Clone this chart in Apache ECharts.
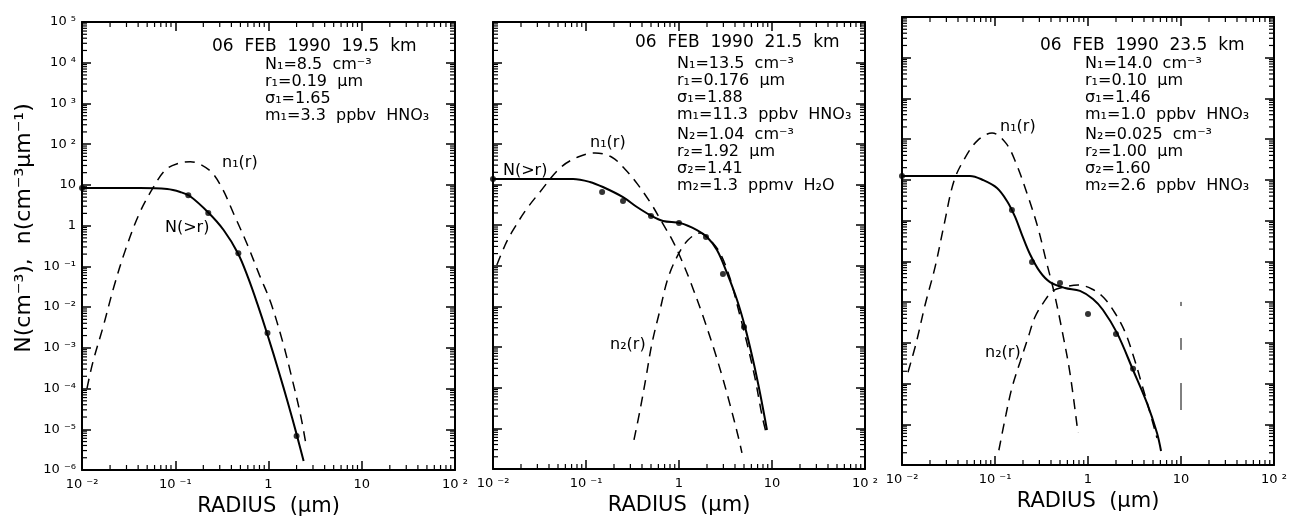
<!DOCTYPE html>
<html>
<head>
<meta charset="utf-8">
<script src="https://cdn.jsdelivr.net/npm/echarts@6/dist/echarts.min.js"></script>
<style>
  html, body { margin: 0; padding: 0; background: #fff; }
  #main { width: 1291px; height: 517px; }
</style>
</head>
<body>
<div id="main"></div>
<script>
// axis ranges (radius in um, concentration)
const radiusRange = [0.01, 100]
const concRange = [1e-6, 1e5]

// 06 FEB 1990, 19.5 km  -- [radius, value]
const p1Cum = [[0.01, 8.4], [0.042, 8.4], [0.082, 7.9], [0.113, 6.7], [0.142, 5.4], [0.226, 2.1], [0.33, 0.78],
  [0.47, 0.21], [0.6, 0.055], [0.76, 0.012], [0.975, 2.1e-3], [1.3, 2.45e-4], [1.6, 4.8e-5], [2.0, 7.6e-6], [2.38, 1.66e-6]]
const p1N1 = [[0.0113, 1.0e-4], [0.0131, 4.5e-4], [0.0168, 3.2e-3], [0.0221, 0.033], [0.029, 0.24], [0.04, 1.7],
  [0.055, 7.0], [0.078, 23], [0.105, 33], [0.145, 37], [0.232, 23], [0.313, 8.9], [0.43, 1.8], [0.594, 0.34],
  [0.8, 0.061], [1.05, 0.0135], [1.42, 1.4e-3], [1.73, 2.4e-4], [2.21, 2.2e-5], [2.56, 3.5e-6]]
const p1Dots = [[0.01, 8.4], [0.138, 5.6], [0.226, 2.05], [0.475, 0.21], [0.975, 2.3e-3], [2.0, 6.8e-6]]

// 06 FEB 1990, 21.5 km
const p2Cum = [[0.01, 13.7], [0.0725, 13.7], [0.11, 11.6], [0.152, 8.7], [0.25, 4.9], [0.353, 2.8], [0.488, 1.78],
  [0.673, 1.27], [1.03, 1.13], [1.56, 0.76], [2.0, 0.51], [2.56, 0.245], [3.28, 0.067], [4.21, 0.0144],
  [5.13, 3.1e-3], [6.25, 4.8e-4], [7.43, 7.4e-5], [8.83, 9.1e-6]]
const p2N1 = [[0.011, 0.105], [0.0135, 0.326], [0.016, 0.68], [0.0226, 2.37], [0.032, 6.56], [0.0525, 25.5],
  [0.082, 47.6], [0.125, 59.8], [0.19, 47], [0.263, 23.8], [0.353, 10.7], [0.5, 3.4], [0.64, 1.3], [0.861, 0.4],
  [1.077, 0.131], [1.313, 0.0432], [1.81, 5.8e-3], [2.38, 8.8e-4], [2.97, 1.64e-4], [3.53, 3.9e-5], [4.31, 6.6e-6], [4.75, 2.5e-6]]
const p2N2 = [[0.328, 5.2e-6], [0.381, 2.8e-5], [0.442, 1.8e-4], [0.513, 1.26e-3], [0.625, 8.2e-3], [0.762, 0.05],
  [0.975, 0.185], [1.25, 0.43], [1.68, 0.64], [2.15, 0.43], [2.76, 0.207], [3.53, 0.05], [4.42, 7.3e-3],
  [5.38, 1.26e-3], [6.56, 1.74e-4], [7.8, 2.1e-5], [8.61, 8.1e-6]]
const p2Dots = [[0.01, 13.7], [0.149, 6.56], [0.25, 3.94], [0.5, 1.68], [1.0, 1.13], [1.95, 0.51], [2.97, 0.063], [5.0, 3.1e-3]]

// 06 FEB 1990, 23.5 km
const p3Cum = [[0.01, 12.5], [0.0538, 12.5], [0.0743, 9.95], [0.105, 6.34], [0.135, 3.0], [0.164, 1.25],
  [0.195, 0.45], [0.238, 0.15], [0.305, 0.055], [0.39, 0.031], [0.566, 0.0222], [0.82, 0.0188], [1.13, 0.0119],
  [1.45, 6.4e-3], [2.05, 1.75e-3], [3.05, 2.15e-4], [4.31, 3.3e-5], [5.52, 6.1e-6], [6.1, 2.2e-6]]
const p3N1 = [[0.0116, 1.9e-4], [0.0142, 9.9e-4], [0.0177, 8.5e-3], [0.0227, 0.073], [0.0283, 0.78], [0.0362, 9.4],
  [0.0475, 34.5], [0.0656, 95], [0.093, 142], [0.131, 80], [0.168, 26], [0.226, 4.0], [0.29, 0.66], [0.353, 0.108],
  [0.431, 0.0177], [0.525, 2.07e-3], [0.64, 1.8e-4], [0.78, 6.1e-6]]
const p3N2 = [[0.11, 2.3e-6], [0.131, 1.7e-5], [0.152, 7.8e-5], [0.186, 3.4e-4], [0.226, 1.3e-3], [0.269, 4.3e-3],
  [0.336, 0.0101], [0.42, 0.0188], [0.566, 0.0235], [0.78, 0.0263], [1.1, 0.021], [1.49, 0.0126], [1.95, 5.4e-3],
  [2.5, 1.85e-3], [3.12, 4.3e-4], [3.81, 9.2e-5], [4.65, 1.9e-5], [5.52, 4.6e-6]]
const p3Dots = [[0.01, 12.5], [0.152, 1.82], [0.25, 0.097], [0.5, 0.0294], [1.0, 5.1e-3], [2.0, 1.65e-3], [3.05, 2.3e-4]]
// vertical mark at 10 um (dashes + solid piece)
const p3Mark = [[[10, 0.0101], [10, 8.0e-3]], [[10, 1.31e-3], [10, 6.7e-4]], [[10, 1.03e-4], [10, 2.24e-5]]]

// text blocks
const titles = ['06  FEB  1990  19.5  km', '06  FEB  1990  21.5  km', '06  FEB  1990  23.5  km']
const p1Info = ['N₁=8.5  cm⁻³', 'r₁=0.19  μm', 'σ₁=1.65', 'm₁=3.3  ppbv  HNO₃']
const p2Info = ['N₁=13.5  cm⁻³', 'r₁=0.176  μm', 'σ₁=1.88', 'm₁=11.3  ppbv  HNO₃',
  'N₂=1.04  cm⁻³', 'r₂=1.92  μm', 'σ₂=1.41', 'm₂=1.3  ppmv  H₂O']
const p3Info = ['N₁=14.0  cm⁻³', 'r₁=0.10  μm', 'σ₁=1.46', 'm₁=1.0  ppbv  HNO₃',
  'N₂=0.025  cm⁻³', 'r₂=1.00  μm', 'σ₂=1.60', 'm₂=2.6  ppbv  HNO₃']

const FONT = 'DejaVu Sans'
const SUP = { '-': '⁻', '0': '⁰', '1': '¹', '2': '²', '3': '³', '4': '⁴', '5': '⁵', '6': '⁶', '7': '⁷', '8': '⁸', '9': '⁹' }

function decadeLabel(v) {
  const e = Math.round(Math.log10(v))
  if (e === 0) return '1'
  if (e === 1) return '10'
  return '10 ' + String(e).split('').map(c => SUP[c]).join('')
}

// 2..9 x 10^k between the decades of a range (minor tick positions)
function minorValues(range) {
  const out = []
  const k0 = Math.round(Math.log10(range[0])), k1 = Math.round(Math.log10(range[1]))
  for (let k = k0; k < k1; k++) {
    for (let m = 2; m <= 9; m++) out.push(m * Math.pow(10, k))
  }
  return out
}

const grids = [
  { left: 82, top: 22, width: 373, height: 448 },
  { left: 493, top: 22, width: 372, height: 447 },
  { left: 902, top: 17, width: 372, height: 448 }
]

const tick = { inside: true, length: 9, lineStyle: { color: '#000', width: 1.5 } }
const line = { onZero: false, lineStyle: { color: '#000', width: 2 } }

function xAxisFor(g, top) {
  return {
    type: 'log', logBase: 10, gridIndex: g, position: top ? 'top' : 'bottom',
    min: radiusRange[0], max: radiusRange[1],
    name: top ? '' : 'RADIUS  (μm)', nameLocation: 'middle', nameGap: 22,
    nameTextStyle: { fontFamily: FONT, fontSize: 21, color: '#000' },
    axisLine: line, axisTick: tick, minorTick: { show: false }, splitLine: { show: false },
    axisLabel: {
      show: !top, formatter: decadeLabel, fontFamily: FONT, fontSize: 13, color: '#000', margin: 8,
      showMinLabel: true, showMaxLabel: true
    }
  }
}

function yAxisFor(g, right) {
  return {
    type: 'log', logBase: 10, gridIndex: g, position: right ? 'right' : 'left',
    min: concRange[0], max: concRange[1], interval: 1,
    axisLine: line, axisTick: tick, minorTick: { show: false }, splitLine: { show: false },
    axisLabel: {
      show: g === 0 && !right, formatter: decadeLabel, fontFamily: FONT, fontSize: 13, color: '#000', margin: 6,
      showMinLabel: true, showMaxLabel: true
    }
  }
}

function curve(g, data, dashed) {
  return {
    type: 'line', xAxisIndex: 2 * g, yAxisIndex: 2 * g, data: data, showSymbol: false, smooth: 0.35, silent: true,
    lineStyle: { color: '#000', width: dashed ? 1.5 : 2, type: dashed ? [10, 7] : 'solid' }
  }
}

function dots(g, data) {
  return { type: 'scatter', xAxisIndex: 2 * g, yAxisIndex: 2 * g, data: data, symbolSize: 6, itemStyle: { color: '#000' }, silent: true }
}

// minor ticks on all four sides, placed through the log axes
function minorTicks(g, horizontal) {
  const vals = minorValues(horizontal ? radiusRange : concRange)
  return {
    type: 'custom', xAxisIndex: 2 * g, yAxisIndex: 2 * g, silent: true, clip: false,
    data: vals.map(v => horizontal ? [v, 1] : [1, v]),
    renderItem: function (params, api) {
      const cs = params.coordSys
      const st = { stroke: '#000', lineWidth: 1.2 }
      const len = 5
      if (horizontal) {
        const x = api.coord([api.value(0), 1])[0]
        const yb = cs.y + cs.height, yt = cs.y
        return { type: 'group', children: [
          { type: 'line', shape: { x1: x, y1: yb, x2: x, y2: yb - len }, style: st },
          { type: 'line', shape: { x1: x, y1: yt, x2: x, y2: yt + len }, style: st }
        ] }
      }
      const y = api.coord([1, api.value(1)])[1]
      const xl = cs.x, xr = cs.x + cs.width
      return { type: 'group', children: [
        { type: 'line', shape: { x1: xl, y1: y, x2: xl + len, y2: y }, style: st },
        { type: 'line', shape: { x1: xr, y1: y, x2: xr - len, y2: y }, style: st }
      ] }
    }
  }
}

function txt(x, y, s, size) {
  return { type: 'text', x: x, y: y, style: { text: s, fontFamily: FONT, fontSize: size || 16, fill: '#000', verticalAlign: 'middle' } }
}

function infoBlock(x, y0, lines) {
  // 17px between lines, a little more before the second mode
  return lines.map((s, i) => txt(x, y0 + i * 17 + (i >= 4 ? 3 : 0), s))
}

const xAxes = [], yAxes = []
for (let g = 0; g < 3; g++) {
  xAxes.push(xAxisFor(g, false), xAxisFor(g, true))
  yAxes.push(yAxisFor(g, false), yAxisFor(g, true))
}

const series = [
  curve(0, p1Cum, false), curve(0, p1N1, true), dots(0, p1Dots),
  curve(1, p2Cum, false), curve(1, p2N1, true), curve(1, p2N2, true), dots(1, p2Dots),
  curve(2, p3Cum, false), curve(2, p3N1, true), curve(2, p3N2, true), dots(2, p3Dots)
]
p3Mark.forEach(seg => {
  const s = curve(2, seg, false)
  s.smooth = false
  s.lineStyle.width = 1
  series.push(s)
})
for (let g = 0; g < 3; g++) series.push(minorTicks(g, true), minorTicks(g, false))

const graphic = [].concat(
  [txt(212, 47, titles[0], 17), txt(635, 43, titles[1], 17), txt(1040, 46, titles[2], 17)],
  infoBlock(265, 65, p1Info), infoBlock(677, 64, p2Info), infoBlock(1085, 64, p3Info),
  [
    txt(222, 163, 'n₁(r)'), txt(165, 228, 'N(>r)'),
    txt(590, 143, 'n₁(r)'), txt(503, 171, 'N(>r)'), txt(610, 345, 'n₂(r)'),
    txt(1000, 127, 'n₁(r)'), txt(985, 353, 'n₂(r)'),
    {
      type: 'text', x: 24, y: 228, rotation: Math.PI / 2,
      style: { text: 'N(cm⁻³),  n(cm⁻³μm⁻¹)', fontFamily: FONT, fontSize: 22, fill: '#000', align: 'center', verticalAlign: 'middle' }
    }
  ]
)

const chart = echarts.init(document.getElementById('main'))
chart.setOption({
  animation: false,
  backgroundColor: '#fff',
  grid: grids.map(g => Object.assign({ outerBoundsMode: 'none' }, g)),
  xAxis: xAxes,
  yAxis: yAxes,
  series: series,
  graphic: graphic
})
</script>
</body>
</html>
